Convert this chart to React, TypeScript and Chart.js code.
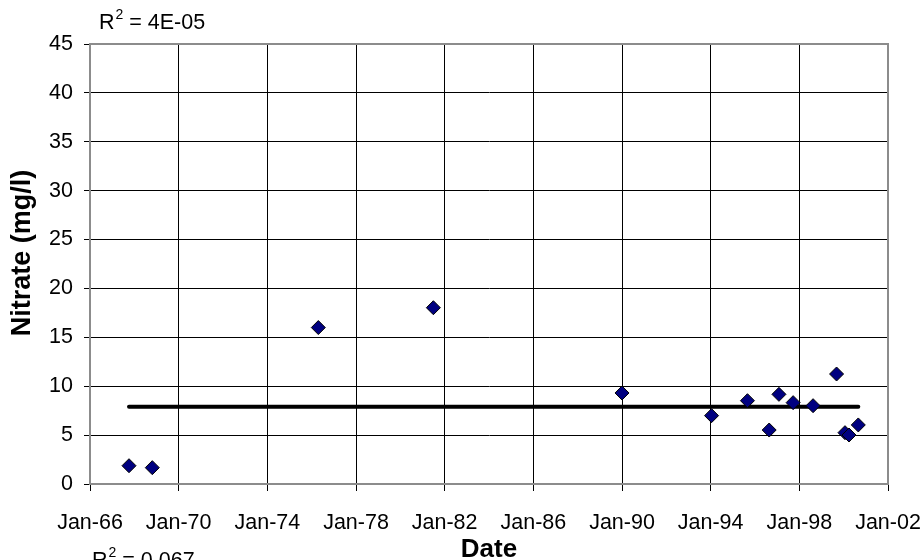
import React, { useEffect, useRef } from 'react';
import { Chart, registerables } from 'chart.js';

Chart.register(...registerables);

// Sample dates (decimal years) and nitrate concentrations (mg/l)
const sampleYears = [1967.76, 1968.81, 1976.3, 1981.49, 1990.0, 1994.04, 1995.66, 1996.64, 1997.08, 1997.72, 1998.62, 1999.68, 2000.06, 2000.24, 2000.66];
const nitrate = [1.87, 1.67, 16.0, 18.03, 9.31, 6.99, 8.52, 5.52, 9.17, 8.32, 8.01, 11.25, 5.25, 5.01, 6.04];

// Linear trend line (nearly flat)
const trendYears = [1967.76, 2000.66];
const trendValues = [7.9, 7.9];

// Axis ticks
const xTickYears = [1966, 1970, 1974, 1978, 1982, 1986, 1990, 1994, 1998, 2002];
const yTickValues = [0, 5, 10, 15, 20, 25, 30, 35, 40, 45];

// Text
const xTitle = 'Date';
const yTitle = 'Nitrate (mg/l)';
const r2Values = ['4E-05', '0.067'];

const FONT = '"Liberation Sans", Arial, sans-serif';

const fmtYear = (y: number) => 'Jan-' + String(Math.round(y) % 100).padStart(2, '0');

const textPlugin = {
  id: 'extraTexts',
  afterDraw(chart: any) {
    const ctx = chart.ctx as CanvasRenderingContext2D;
    const a = chart.chartArea;
    ctx.save();
    // plot frame
    ctx.strokeStyle = '#8c8c8c';
    ctx.lineWidth = 2;
    ctx.strokeRect(a.left, a.top, a.right - a.left, a.bottom - a.top);

    ctx.fillStyle = '#000';
    // R² labels
    const drawR2 = (x: number, baseline: number, val: string) => {
      ctx.textAlign = 'left';
      ctx.textBaseline = 'alphabetic';
      ctx.font = `21.5px ${FONT}`;
      ctx.fillText('R', x, baseline);
      const w = ctx.measureText('R').width;
      ctx.font = `14px ${FONT}`;
      ctx.fillText('2', x + w + 1, baseline - 10);
      const w2 = ctx.measureText('2').width;
      ctx.font = `21.5px ${FONT}`;
      ctx.fillText(' = ' + val, x + w + 1 + w2, baseline);
    };
    drawR2(99, 29, r2Values[0]);
    drawR2(92, 567, r2Values[1]);

    // x title
    ctx.font = `bold 26px ${FONT}`;
    ctx.textAlign = 'center';
    ctx.textBaseline = 'alphabetic';
    ctx.fillText(xTitle, (a.left + a.right) / 2, 557);

    // y title
    ctx.translate(23, 253);
    ctx.rotate(-Math.PI / 2);
    ctx.font = `bold 27px ${FONT}`;
    ctx.textAlign = 'center';
    ctx.textBaseline = 'middle';
    ctx.fillText(yTitle, 0, 0);
    ctx.restore();
  },
};

export default function App() {
  const ref = useRef<HTMLCanvasElement>(null);
  useEffect(() => {
    if (!ref.current) return;
    const chart = new Chart(ref.current, {
      type: 'scatter',
      data: {
        datasets: [
          {
            label: 'Nitrate',
            data: sampleYears.map((x, i) => ({ x, y: nitrate[i] })),
            pointStyle: 'rectRot',
            pointRadius: 7,
            pointBackgroundColor: '#000080',
            pointBorderColor: '#000',
            pointBorderWidth: 1,
            showLine: false,
          },
          {
            label: 'Trend',
            data: trendYears.map((x, i) => ({ x, y: trendValues[i] })),
            showLine: true,
            borderColor: '#000',
            borderWidth: 4,
            borderCapStyle: 'round',
            pointRadius: 0,
            fill: false,
          },
        ],
      },
      options: {
        responsive: false,
        animation: false,
        events: [],
        layout: { padding: { top: 44, right: 34, left: 0, bottom: 0 } },
        plugins: { legend: { display: false }, tooltip: { enabled: false } },
        scales: {
          x: {
            type: 'linear',
            min: 1966,
            max: 2002,
            afterBuildTicks: (s: any) => { s.ticks = xTickYears.map((v) => ({ value: v })); },
            afterFit: (s: any) => { s.height = 76; s.paddingLeft = 0; s.paddingRight = 0; },
            ticks: {
              callback: (v: any) => fmtYear(Number(v)),
              autoSkip: false,
              maxRotation: 0,
              minRotation: 0,
              padding: 19,
              color: '#000',
              font: { family: FONT, size: 21.5 },
            },
            grid: { color: '#000', lineWidth: 1, tickColor: '#000', tickLength: 7 },
            border: { color: '#8c8c8c', width: 2 },
          },
          y: {
            type: 'linear',
            min: 0,
            max: 45,
            afterBuildTicks: (s: any) => { s.ticks = yTickValues.map((v) => ({ value: v })); },
            afterFit: (s: any) => { s.width = 90; s.paddingTop = 0; s.paddingBottom = 0; },
            ticks: {
              padding: 11,
              color: '#000',
              font: { family: FONT, size: 21.5 },
            },
            grid: { color: '#000', lineWidth: 1, tickColor: '#000', tickLength: 6 },
            border: { color: '#8c8c8c', width: 2 },
          },
        },
      },
      plugins: [textPlugin],
    });
    return () => chart.destroy();
  }, []);
  return (
    <div style={{ position: 'fixed', left: 0, top: 0, width: 922, height: 560, background: '#fff' }}>
      <canvas ref={ref} width={922} height={560} style={{ width: 922, height: 560 }} />
    </div>
  );
}
